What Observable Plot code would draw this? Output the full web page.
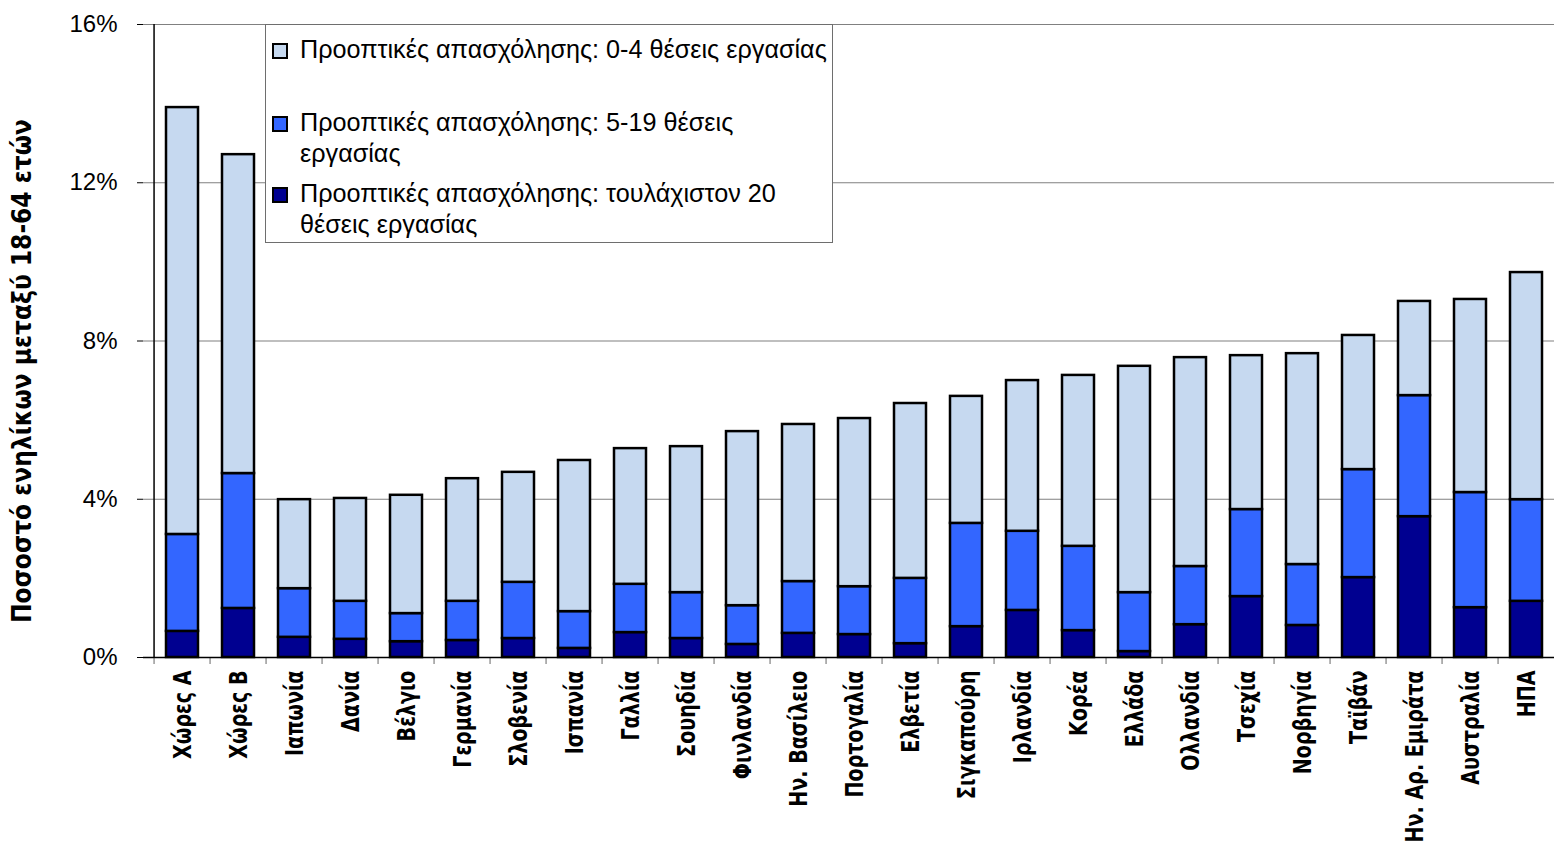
<!DOCTYPE html>
<html>
<head>
<meta charset="utf-8">
<script src="https://cdn.jsdelivr.net/npm/d3@7"></script>
<script src="https://cdn.jsdelivr.net/npm/@observablehq/plot@0.6"></script>
<style>
  html, body { margin: 0; padding: 0; background: #fff; overflow: hidden; }
  #wrap { position: relative; width: 1554px; height: 845px; overflow: hidden; }
  #legend {
    position: absolute; left: 265px; top: 24px; width: 566px; height: 217px;
    background: #fff; border: 1px solid #6e6e6e;
    font-family: "Liberation Sans", Arial, sans-serif; font-size: 25.2px; color: #000;
  }
  .item { position: absolute; left: 6px; display: flex; align-items: flex-start; line-height: 31px; }
  .sw { width: 12px; height: 12px; border: 2px solid #000; margin-top: 9px; margin-right: 12px; flex: none; }
  .lab { white-space: pre; }
</style>
</head>
<body>
<div id="wrap"></div>
<script>
const categories = ["Χώρες Α","Χώρες Β","Ιαπωνία","Δανία","Βέλγιο","Γερμανία","Σλοβενία","Ισπανία","Γαλλία","Σουηδία","Φινλανδία","Ην. Βασίλειο","Πορτογαλία","Ελβετία","Σιγκαπούρη","Ιρλανδία","Κορέα","Ελλάδα","Ολλανδία","Τσεχία","Νορβηγία","Ταϊβάν","Ην. Αρ. Εμιράτα","Αυστραλία","ΗΠΑ"];
// percentage of adults aged 18-64, by employment prospects
const atLeast20 = [0.66,1.24,0.51,0.46,0.40,0.43,0.48,0.23,0.63,0.48,0.33,0.61,0.58,0.35,0.78,1.19,0.68,0.15,0.83,1.54,0.81,2.02,3.56,1.26,1.42];
const jobs5to19 = [2.45,3.41,1.23,0.96,0.71,0.99,1.42,0.93,1.22,1.16,0.98,1.31,1.21,1.65,2.61,2.00,2.13,1.49,1.47,2.20,1.54,2.73,3.06,2.91,2.57];
const jobs0to4  = [10.79,8.06,2.25,2.60,2.99,3.10,2.78,3.82,3.43,3.69,4.40,3.97,4.25,4.42,3.21,3.81,4.32,5.72,5.28,3.89,5.33,3.39,2.38,4.88,5.74];
const seriesNames = [
  "Προοπτικές απασχόλησης: τουλάχιστον 20 θέσεις εργασίας",
  "Προοπτικές απασχόλησης: 5-19 θέσεις εργασίας",
  "Προοπτικές απασχόλησης: 0-4 θέσεις εργασίας"
];
const seriesColors = ["#000090", "#3366FF", "#C6D9F0"];
const yTicks = [0, 4, 8, 12, 16];
const yTitle = "Ποσοστό ενηλίκων μεταξύ 18-64 ετών";

const rows = [];
categories.forEach((c, i) => {
  rows.push({cat: c, series: seriesNames[0], value: atLeast20[i]});
  rows.push({cat: c, series: seriesNames[1], value: jobs5to19[i]});
  rows.push({cat: c, series: seriesNames[2], value: jobs0to4[i]});
});

const xRange = [143, 1565];
const step = (xRange[1] - xRange[0]) / categories.length;
const narrow = "'Liberation Sans Narrow', 'DejaVu Sans Condensed', 'Arial Narrow', sans-serif";

const chart = Plot.plot({
  width: 1554,
  height: 845,
  marginLeft: 143,
  marginRight: 0,
  marginTop: 24,
  marginBottom: 188,
  style: {fontFamily: "'Liberation Sans', Arial, sans-serif", background: "#fff", overflow: "visible"},
  x: {domain: categories, range: xRange, paddingInner: 0.42, paddingOuter: 0.21},
  y: {domain: [0, 16], range: [657, 24]},
  color: {domain: seriesNames, range: seriesColors},
  marks: [
    Plot.gridY(yTicks, {stroke: "#808080", strokeOpacity: 1, strokeWidth: 1.2}),
    Plot.barY(rows, Plot.stackY({x: "cat", y: "value", fill: "series", stroke: "#000", strokeWidth: 2.5})),
    Plot.ruleY([0], {stroke: "#000", strokeWidth: 1.5}),
    Plot.ruleX([categories[0]], {y1: 0, y2: 16, dx: -step / 2, stroke: "#000", strokeWidth: 1.5}),
    Plot.axisY({ticks: yTicks, tickFormat: d => d + "%", tickSize: 6, tickPadding: 20, fontSize: 24, label: null, stroke: "#000"}),
    Plot.axisX({tickSize: 7, tickFormat: () => "", dx: -step / 2, label: null, stroke: "#000", strokeOpacity: 0.6}),
    Plot.axisX({tickSize: 0, tickRotate: -90, tickPadding: 13, fontSize: 25, fontWeight: "bold", fontFamily: narrow, label: null}),
    Plot.text([yTitle], {frameAnchor: "left", textAnchor: "middle", rotate: -90, dx: -121, dy: 30, fontSize: 26, fontWeight: "bold", fontFamily: narrow, fill: "#000", ariaLabel: "ytitle"})
  ]
});

// compress the bold labels along their reading direction to imitate a narrow face
chart.querySelectorAll('g[aria-label="ytitle"] text').forEach(t => {
  const tr = t.getAttribute("transform") || "";
  t.setAttribute("transform", tr + " scale(0.85,1)");
});
chart.querySelectorAll('g[aria-label="x-axis tick label"] text').forEach(t => {
  const tr = t.getAttribute("transform");
  if (tr && tr.includes("rotate")) t.setAttribute("transform", tr + " scale(0.85,1)");
});

const wrap = document.getElementById("wrap");
wrap.appendChild(chart);

// Legend (top item = 0-4 jobs)
const legend = document.createElement("div");
legend.id = "legend";
const legendItems = [
  {color: seriesColors[2], top: 9, text: "Προοπτικές απασχόλησης: 0-4 θέσεις εργασίας"},
  {color: seriesColors[1], top: 82, text: "Προοπτικές απασχόλησης: 5-19 θέσεις\nεργασίας"},
  {color: seriesColors[0], top: 153, text: "Προοπτικές απασχόλησης: τουλάχιστον 20\nθέσεις εργασίας"}
];
legendItems.forEach(it => {
  const d = document.createElement("div");
  d.className = "item";
  d.style.top = it.top + "px";
  const sw = document.createElement("div");
  sw.className = "sw";
  sw.style.background = it.color;
  const lab = document.createElement("div");
  lab.className = "lab";
  lab.textContent = it.text;
  d.appendChild(sw);
  d.appendChild(lab);
  legend.appendChild(d);
});
wrap.appendChild(legend);
</script>
</body>
</html>
